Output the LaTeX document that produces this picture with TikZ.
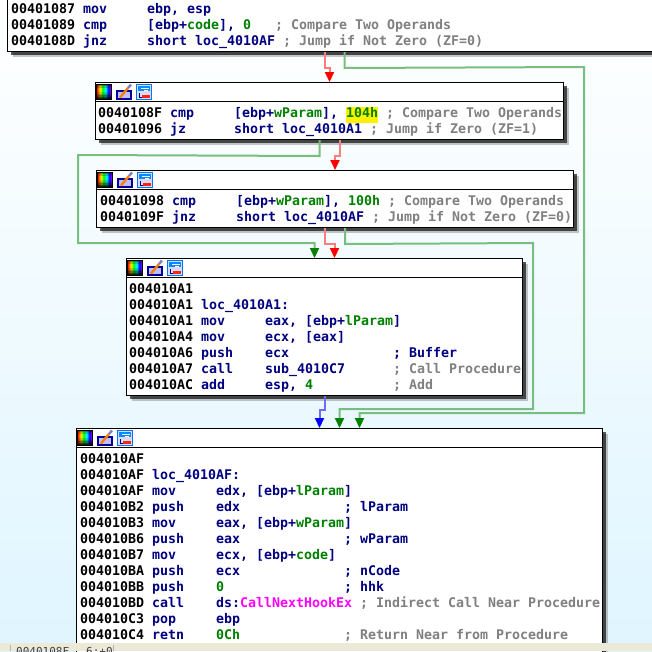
\documentclass[tikz,border=0pt]{standalone}
\usepackage{fontspec}
\setmonofont{DejaVu Sans Mono}
\usetikzlibrary{arrows.meta,shadows}

\definecolor{asmblue}{HTML}{000080}
\definecolor{asmgreen}{HTML}{008000}
\definecolor{asmgrey}{HTML}{808080}
\definecolor{asmpink}{HTML}{FF00FF}
\definecolor{redline}{HTML}{FF7C7C}
\definecolor{greenline}{HTML}{78BE80}
\definecolor{blueline}{HTML}{6C6CFF}
\definecolor{paper}{HTML}{DFF5FF}
\definecolor{statusbar}{HTML}{ECE9D8}

\pgfdeclarehorizontalshading{spectrum}{100bp}{color(0bp)=(red); color(25bp)=(red); color(37bp)=(yellow); color(45bp)=(green); color(55bp)=(cyan); color(65bp)=(blue); color(75bp)=(magenta); color(100bp)=(magenta)}

\newcommand{\var}[1]{\textcolor{asmgreen}{#1}}
\newcommand{\val}[1]{\textcolor{asmgreen}{#1}}
\newcommand{\cmt}[1]{\textcolor{asmgrey}{; #1}}
\newcommand{\note}[1]{\textcolor{asmblue}{; #1}}
\newcommand{\api}[1]{\textcolor{asmpink}{#1}}
\newcommand{\hilite}[1]{{\setlength{\fboxsep}{0pt}\colorbox{yellow}{\strut\val{#1}}}}
\newcommand{\upto}[2]{\makebox[#1pt][l]{#2}}
\newcommand{\asmrow}[3]{\strut\makebox[72pt][l]{#1}\textcolor{asmblue}{\makebox[64pt][l]{#2}#3}}

\newcommand{\blockhead}[1]{
\draw[line width=1pt] ([yshift=-19pt]#1.north west) -- ([yshift=-19pt]#1.north east);
\begin{scope}[shift={(#1.north west)}]
\shade[shading=spectrum] (1.5,2.5) rectangle (16.5,17.5);
\foreach \row/\dark in {2.5/.4,4/.2,10/.15,11.5/.3,13/.5,14.5/.7,16/.85}
  \fill[black,opacity=\dark] (1.5,\row) rectangle (16.5,\row+1.5);
\draw[black,line width=.8pt] (1.5,2.5) rectangle (16.5,17.5);
\fill[blue!60!black] (21,7.5) rectangle (37,18);
\fill[white!75!blue] (23,9.5) rectangle (35,16);
\draw[orange,line width=2.4pt] (25,15.5) -- (33,6);
\draw[asmblue!50!white,line width=2.4pt] (33,6) -- (36,2.5);
\fill[white!85!blue] (41,2) rectangle (57,18);
\draw[blue!55!cyan,line width=.8pt] (41.5,2.5) rectangle (56.5,17.5);
\fill[blue!45!cyan] (43,4) rectangle (55,9);
\draw[asmblue,line width=.7pt] (44,11) -- (44,15) -- (50,15);
\draw[white,line width=.7pt] (46,6) -- (54,6) (49,8) -- (53,8);
\fill[red!70!orange] (47,12.5) rectangle (55,15.5);
\end{scope}
}

\tikzset{
x=1pt,y=-1pt,
asmbox/.style={draw=black,line width=1pt,fill=white,anchor=north west,inner sep=0pt,
 drop shadow={shadow xshift=5pt,shadow yshift=-5pt,fill=gray,opacity=.45},
 drop shadow={shadow xshift=3pt,shadow yshift=-3pt,fill=black,opacity=.65}},
asmtext/.style={anchor=north west,inner sep=0pt,align=left,font=\fontsize{13.29}{16}\selectfont\ttfamily\bfseries},
statustext/.style={anchor=north west,inner sep=0pt,font=\fontsize{11}{13}\selectfont\ttfamily,text=black!75},
edge red/.style={draw=redline,line width=2pt,-{Triangle[length=10pt,width=9pt,color=red]}},
edge green/.style={draw=greenline,line width=2pt,-{Triangle[length=10pt,width=9pt,color=asmgreen]}},
edge blue/.style={draw=blueline,line width=2pt,-{Triangle[length=10pt,width=9pt,color=blue]}}
}

\begin{document}
\begin{tikzpicture}
\useasboundingbox (0,0) rectangle (652,651);
\clip (0,0) rectangle (652,651);
\shade[top color=white,bottom color=paper] (0,0) rectangle (652,651);

\node[asmbox,minimum width=654pt,minimum height=71pt] (blk1) at (7,-20) {};
\node[asmbox,minimum width=468pt,minimum height=57pt] (blk2) at (95,82) {};
\node[asmbox,minimum width=477pt,minimum height=57pt] (blk3) at (96,170) {};
\node[asmbox,minimum width=396pt,minimum height=137pt] (blk4) at (126,258) {};
\node[asmbox,minimum width=526pt,minimum height=260pt] (blk5) at (76,428) {};

\blockhead{blk2}
\blockhead{blk3}
\blockhead{blk4}
\blockhead{blk5}

\node[asmtext] (code1) at (11,2.1) {
\asmrow{00401087}{mov}{ebp, esp}\\
\asmrow{00401089}{cmp}{\upto{128}{[ebp+\var{code}], \val{0}}\cmt{Compare Two Operands}}\\
\asmrow{0040108D}{jnz}{\upto{136}{short loc\_4010AF}\cmt{Jump if Not Zero (ZF=0)}}};

\node[asmtext] (code2) at (98,106.3) {
\asmrow{0040108F}{cmp}{\upto{152}{[ebp+\var{wParam}], \hilite{104h}}\cmt{Compare Two Operands}}\\
\asmrow{00401096}{jz}{\upto{136}{short loc\_4010A1}\cmt{Jump if Zero (ZF=1)}}};

\node[asmtext] (code3) at (100,194.4) {
\asmrow{00401098}{cmp}{\upto{152}{[ebp+\var{wParam}], \val{100h}}\cmt{Compare Two Operands}}\\
\asmrow{0040109F}{jnz}{\upto{136}{short loc\_4010AF}\cmt{Jump if Not Zero (ZF=0)}}};

\node[asmtext] (code4) at (129,282.2) {
\asmrow{004010A1}{}{}\\
\asmrow{004010A1}{loc\_4010A1:}{}\\
\asmrow{004010A1}{mov}{eax, [ebp+\var{lParam}]}\\
\asmrow{004010A4}{mov}{ecx, [eax]}\\
\asmrow{004010A6}{push}{\upto{128}{ecx}\note{Buffer}}\\
\asmrow{004010A7}{call}{\upto{128}{sub\_4010C7}\cmt{Call Procedure}}\\
\asmrow{004010AC}{add}{\upto{128}{esp, \val{4}}\cmt{Add}}};

\node[asmtext] (code5) at (80,451.7) {
\asmrow{004010AF}{}{}\\
\asmrow{004010AF}{loc\_4010AF:}{}\\
\asmrow{004010AF}{mov}{edx, [ebp+\var{lParam}]}\\
\asmrow{004010B2}{push}{\upto{128}{edx}\note{lParam}}\\
\asmrow{004010B3}{mov}{eax, [ebp+\var{wParam}]}\\
\asmrow{004010B6}{push}{\upto{128}{eax}\note{wParam}}\\
\asmrow{004010B7}{mov}{ecx, [ebp+\var{code}]}\\
\asmrow{004010BA}{push}{\upto{128}{ecx}\note{nCode}}\\
\asmrow{004010BB}{push}{\upto{128}{\val{0}}\note{hhk}}\\
\asmrow{004010BD}{call}{\upto{144}{ds:\api{CallNextHookEx}}\cmt{Indirect Call Near Procedure}}\\
\asmrow{004010C3}{pop}{ebp}\\
\asmrow{004010C4}{retn}{\upto{128}{\val{0Ch}}\cmt{Return Near from Procedure}}};

\draw[edge red] ([xshift=-10pt]blk1.south) -- ++(0,16) -| (blk2.north);
\draw[edge green] ([xshift=10pt]blk1.south) -- ++(0,16) -- (584,67) -- (584,413) -| ([xshift=20pt]blk5.north);
\draw[edge green] ([xshift=-10pt]blk2.south) -- ++(0,16) -- (78,155) -- (78,243) -| ([xshift=-10pt]blk4.north);
\draw[edge red] ([xshift=10pt]blk2.south) -- ++(0,16) -| (blk3.north);
\draw[edge red] ([xshift=-10pt]blk3.south) -- ++(0,16) -| ([xshift=10pt]blk4.north);
\draw[edge green] ([xshift=10pt]blk3.south) -- ++(0,16) -- (533,243) -- (533,409) -| (blk5.north);
\draw[edge blue] (blk4.south) -- ++(0,14) -| ([xshift=-20pt]blk5.north);

\fill[statusbar] (0,643) rectangle (652,651);
\draw[white!70!black] (10.5,645) -- (10.5,651) (113.5,645) -- (113.5,651);
\node[statustext] (status1) at (16,647) {0040108F};
\node[statustext] (status2) at (86,647) {6:+0};
\end{tikzpicture}
\end{document}
